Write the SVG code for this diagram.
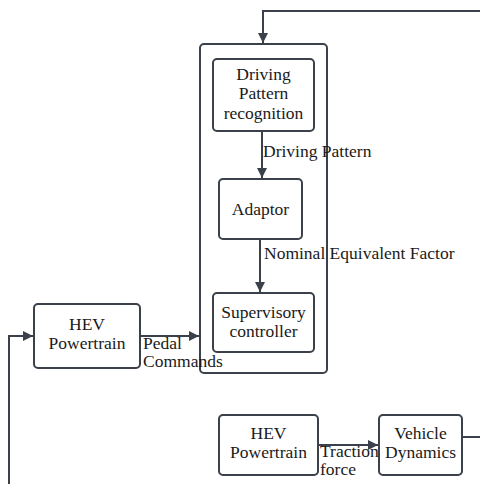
<svg xmlns="http://www.w3.org/2000/svg" width="480" height="484" viewBox="0 0 480 484">
  <defs>
    <marker id="arrow" viewBox="0 0 10 10" refX="10" refY="5" markerWidth="10" markerHeight="10" markerUnits="userSpaceOnUse" orient="auto">
      <path d="M0,0 L10,5 L0,10 Z" fill="#3a414a"/>
    </marker>
  </defs>
  <rect width="480" height="484" fill="#ffffff"/>

  <!-- shared box look: white fill, slate outline -->
  <g fill="#ffffff" stroke="#3a414a" stroke-width="2">
    <g id="controller">
      <rect x="200" y="44" width="127" height="329" rx="4"/>
    </g>
    <g id="recognition-box"><rect x="213" y="59" width="101" height="72" rx="4"/></g>
    <g id="adaptor-box"><rect x="219" y="179" width="83" height="60" rx="4"/></g>
    <g id="supervisory-box"><rect x="213" y="293" width="101" height="59" rx="4"/></g>
    <g id="powertrain-a-box"><rect x="34" y="304" width="106" height="64" rx="4"/></g>
    <g id="powertrain-b-box"><rect x="219" y="415" width="99" height="60" rx="4"/></g>
    <g id="vehicle-box"><rect x="379" y="415" width="83" height="60" rx="4"/></g>
  </g>

  <g id="connectors" fill="none" stroke="#3a414a" stroke-width="2">
    <path d="M480,11 H263 V43" marker-end="url(#arrow)"/>
    <path d="M262,131 V178" marker-end="url(#arrow)"/>
    <path d="M260,239 V292" marker-end="url(#arrow)"/>
    <path d="M140,336 H199" marker-end="url(#arrow)"/>
    <path d="M9,484 V336 H33" marker-end="url(#arrow)"/>
    <path d="M318,445 H378" marker-end="url(#arrow)"/>
    <path d="M462,437 H480"/>
  </g>

  <g id="node-labels" text-anchor="middle" fill="#1a1a1a">
    <g id="recognition">
      <text x="263.5" y="80" font-family="Liberation Serif" font-size="17.5">Driving</text>
      <text x="263.5" y="99" font-family="Liberation Serif" font-size="17.5">Pattern</text>
      <text x="263.5" y="119" font-family="Liberation Serif" font-size="17.5">recognition</text>
    </g>
    <g id="adaptor">
      <text x="260.5" y="215" font-family="Liberation Serif" font-size="17.5">Adaptor</text>
    </g>
    <g id="supervisory">
      <text x="263.5" y="318" font-family="Liberation Serif" font-size="17.5">Supervisory</text>
      <text x="263.5" y="337" font-family="Liberation Serif" font-size="17.5">controller</text>
    </g>
    <g id="powertrain-a">
      <text x="87" y="330" font-family="Liberation Serif" font-size="17.5">HEV</text>
      <text x="87" y="349" font-family="Liberation Serif" font-size="17.5">Powertrain</text>
    </g>
    <g id="powertrain-b">
      <text x="268.5" y="439" font-family="Liberation Serif" font-size="17.5">HEV</text>
      <text x="268.5" y="458" font-family="Liberation Serif" font-size="17.5">Powertrain</text>
    </g>
    <g id="vehicle">
      <text x="420.5" y="439" font-family="Liberation Serif" font-size="17.5">Vehicle</text>
      <text x="420.5" y="458" font-family="Liberation Serif" font-size="17.5">Dynamics</text>
    </g>
  </g>

  <g id="connector-labels" fill="#1a1a1a">
    <text x="263" y="157" font-family="Liberation Serif" font-size="17.5">Driving Pattern</text>
    <text x="264" y="259" font-family="Liberation Serif" font-size="17.5">Nominal Equivalent Factor</text>
    <text x="143" y="349" font-family="Liberation Serif" font-size="17.5">Pedal</text>
    <text x="143" y="367" font-family="Liberation Serif" font-size="17.5">Commands</text>
    <text x="320" y="457" font-family="Liberation Serif" font-size="17.5">Traction</text>
    <text x="320" y="475" font-family="Liberation Serif" font-size="17.5">force</text>
  </g>
</svg>
